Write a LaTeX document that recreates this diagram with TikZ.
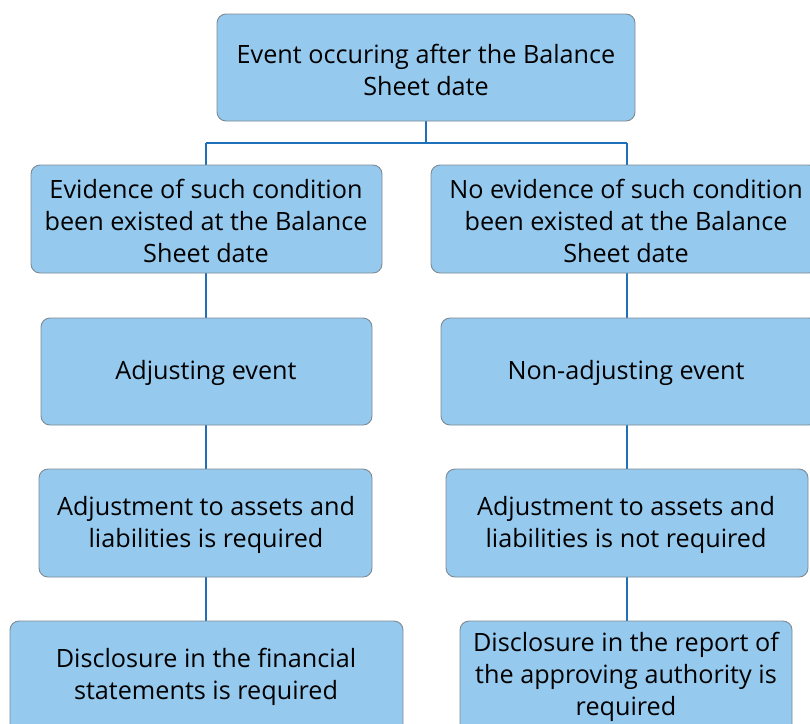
\documentclass[tikz,border=0pt]{standalone}
\usepackage{fontspec}
\setmainfont{Open Sans}
\definecolor{boxfill}{HTML}{95C9EE}
\definecolor{boxline}{HTML}{7D8A96}
\definecolor{conn}{HTML}{1E70BA}
\begin{document}
\begin{tikzpicture}[x=1pt,y=-1pt,
  box/.style={draw=boxline,fill=boxfill,rounded corners=9pt,line width=0.9pt},
  lbl/.style={align=center,font=\fontsize{25.2}{32}\selectfont,text=black},
  conline/.style={draw=conn,line width=2pt}]
\useasboundingbox (0,0) rectangle (810,723);
\clip (0,0) rectangle (810,723);
% connectors
\coordinate (tb) at (426,121);
\coordinate (jn) at (426,143);
\coordinate (jl) at (206,143);
\coordinate (jr) at (627,143);
\draw[conline] (tb) -- (jn);
\draw[conline] (jl) -- (jr);
\draw[conline] (jl) -- (206,165);
\draw[conline] (jr) -- (627,165);
\draw[conline] (206,273) -- (206,318);
\draw[conline] (627,273) -- (627,318);
\draw[conline] (206,425) -- (206,469);
\draw[conline] (627,425) -- (627,469);
\draw[conline] (206,577) -- (206,621);
\draw[conline] (627,577) -- (627,621);
% boxes
\draw[box] (217,14) rectangle (635,121);
\node[lbl] (t) at (426,70) {Event occuring after the Balance\\Sheet date};
\draw[box] (31,165) rectangle (382,273);
\node[lbl] (l1) at (206,221) {Evidence of such condition\\been existed at the Balance\\Sheet date};
\draw[box] (431,165) rectangle (818,273);
\node[lbl] (r1) at (626,221) {No evidence of such condition\\been existed at the Balance\\Sheet date};
\draw[box] (41,318) rectangle (372,425);
\node[lbl] (l2) at (206,373) {Adjusting event};
\draw[box] (441,318) rectangle (818,425);
\node[lbl] (r2) at (626,373) {Non-adjusting event};
\draw[box] (39,469) rectangle (372,577);
\node[lbl] (l3) at (206,525) {Adjustment to assets and\\liabilities is required};
\draw[box] (446,469) rectangle (808,577);
\node[lbl] (r3) at (626,525) {Adjustment to assets and\\liabilities is not required};
\draw[box] (10,621) rectangle (403,735);
\node[lbl] (l4) at (206,677) {Disclosure in the financial\\statements is required};
\draw[box] (460,621) rectangle (792,735);
\node[lbl] (r4) at (626,677) {Disclosure in the report of\\the approving authority is\\required};
\end{tikzpicture}
\end{document}
